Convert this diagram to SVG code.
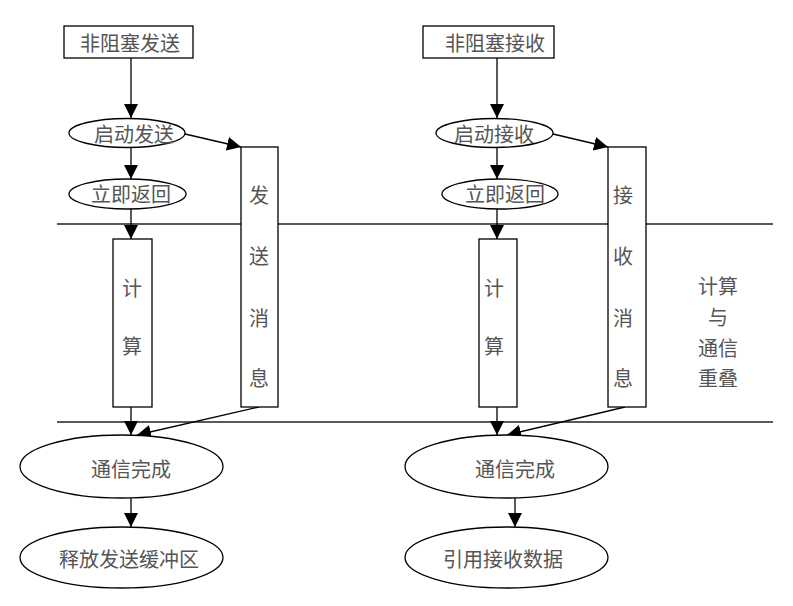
<svg xmlns="http://www.w3.org/2000/svg" width="793" height="606" viewBox="0 0 793 606">
<style>
.s{fill:#fff;stroke:#000;stroke-width:1.3}
.t{font-family:"Noto Sans CJK SC",sans-serif;font-size:20px;fill:#555;text-anchor:middle;dominant-baseline:central}
.c{stroke:#000;stroke-width:1.3;fill:none;marker-end:url(#a)}
.l{stroke:#222;stroke-width:1.3}
</style>
<defs>
<marker id="a" viewBox="0 0 14 14" refX="14" refY="7" markerWidth="14" markerHeight="14" markerUnits="userSpaceOnUse" orient="auto">
<path d="M0,0 L14,7 L0,14 Z" fill="#000"/>
</marker>
</defs>
<rect width="793" height="606" fill="#fff"/>
<g id="lines">
<line class="l" x1="57" y1="224" x2="773" y2="224"/>
<line class="l" x1="57" y1="422" x2="773" y2="422"/>
</g>
<g id="connectors">
<line class="c" x1="131" y1="58" x2="131" y2="118"/>
<line class="c" x1="131" y1="147" x2="131" y2="179"/>
<line class="c" x1="131" y1="209" x2="131" y2="239"/>
<line class="c" x1="131" y1="407" x2="131" y2="435"/>
<line class="c" x1="131" y1="498" x2="131" y2="527"/>
<line class="c" x1="185" y1="134" x2="241" y2="147"/>
<line class="c" x1="259" y1="407" x2="137" y2="435"/>
<line class="c" x1="497" y1="58" x2="497" y2="118"/>
<line class="c" x1="497" y1="147" x2="497" y2="179"/>
<line class="c" x1="497" y1="209" x2="497" y2="239"/>
<line class="c" x1="497" y1="407" x2="497" y2="435"/>
<line class="c" x1="515" y1="498" x2="515" y2="527"/>
<line class="c" x1="553" y1="134" x2="608" y2="147"/>
<line class="c" x1="625" y1="407" x2="507" y2="435"/>
</g>
<g id="send">
<rect class="s" x="64" y="26" width="129" height="32"/>
<text class="t" x="130" y="42">非阻塞发送</text>
</g>
<g id="start-send">
<ellipse class="s" cx="127" cy="133" rx="58" ry="14.5"/>
<text class="t" x="134" y="133">启动发送</text>
</g>
<g id="return-l">
<ellipse class="s" cx="127.5" cy="194" rx="58.5" ry="15"/>
<text class="t" x="131" y="193">立即返回</text>
</g>
<g id="compute-l">
<rect class="s" x="113" y="239" width="39" height="168"/>
<text class="t" x="132" y="287">计</text>
<text class="t" x="132" y="345">算</text>
</g>
<g id="sendmsg">
<rect class="s" x="241" y="147" width="37" height="260"/>
<text class="t" x="259" y="194">发</text>
<text class="t" x="259" y="255">送</text>
<text class="t" x="259" y="317">消</text>
<text class="t" x="259" y="377">息</text>
</g>
<g id="done-l">
<ellipse class="s" cx="121.5" cy="466.5" rx="101.5" ry="31.5"/>
<text class="t" x="131" y="468">通信完成</text>
</g>
<g id="release">
<ellipse class="s" cx="121.5" cy="557.5" rx="101.5" ry="30.5"/>
<text class="t" x="129" y="558">释放发送缓冲区</text>
</g>
<g id="recv">
<rect class="s" x="423" y="26" width="131" height="32"/>
<text class="t" x="495" y="42">非阻塞接收</text>
</g>
<g id="start-recv">
<ellipse class="s" cx="494.5" cy="133" rx="58.5" ry="14.5"/>
<text class="t" x="494" y="133">启动接收</text>
</g>
<g id="return-r">
<ellipse class="s" cx="500" cy="194" rx="58" ry="15"/>
<text class="t" x="505" y="193">立即返回</text>
</g>
<g id="compute-r">
<rect class="s" x="479" y="239" width="38" height="168"/>
<text class="t" x="494" y="287">计</text>
<text class="t" x="494" y="345">算</text>
</g>
<g id="recvmsg">
<rect class="s" x="608" y="147" width="38" height="260"/>
<text class="t" x="623" y="194">接</text>
<text class="t" x="623" y="255">收</text>
<text class="t" x="623" y="317">消</text>
<text class="t" x="623" y="377">息</text>
</g>
<g id="done-r">
<ellipse class="s" cx="506.5" cy="466.5" rx="101.5" ry="31.5"/>
<text class="t" x="515" y="468">通信完成</text>
</g>
<g id="use">
<ellipse class="s" cx="506.5" cy="557.5" rx="101.5" ry="30.5"/>
<text class="t" x="503" y="558">引用接收数据</text>
</g>
<g id="overlap">
<text class="t" x="718" y="285">计算</text>
<text class="t" x="718" y="316">与</text>
<text class="t" x="718" y="347">通信</text>
<text class="t" x="718" y="377">重叠</text>
</g>
</svg>
